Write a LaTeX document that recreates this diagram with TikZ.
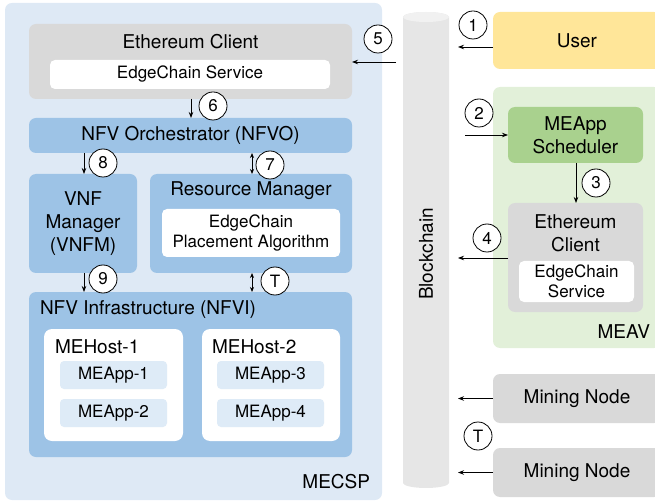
\documentclass[tikz,border=0pt]{standalone}
\usepackage{fontspec}
\setmainfont{TeX Gyre Heros}
\usetikzlibrary{arrows.meta}
\definecolor{mecbg}{HTML}{DEE9F5}
\definecolor{nfvblue}{HTML}{9DC3E6}
\definecolor{cgray}{HTML}{D9D9D9}
\definecolor{bcgray}{HTML}{E6E6E6}
\definecolor{useryel}{HTML}{FFE699}
\definecolor{meavbg}{HTML}{E2F0D9}
\definecolor{schedgr}{HTML}{A9D18E}
\definecolor{appbg}{HTML}{DEEBF7}
\newcommand\lblbig{\fontsize{19}{23}\selectfont}
\newcommand\lblsmall{\fontsize{17}{20.5}\selectfont}
\begin{document}
\begin{tikzpicture}[x=1pt,y=-1pt,
  every node/.style={inner sep=0pt, outer sep=0pt},
  box/.style n args={2}{minimum width=#1, minimum height=#2, rounded corners=7pt},
  wbox/.style n args={2}{minimum width=#1, minimum height=#2, rounded corners=5pt, fill=white},
  tbig/.style={font=\lblbig, align=center},
  tsmall/.style={font=\lblsmall, align=center},
  numc/.style={circle, draw=black, line width=0.8pt, fill=white, minimum size=28pt, font=\fontsize{17}{17}\selectfont},
  arr/.style={line width=0.8pt, -{Stealth[length=6pt,width=4.5pt]}},
  darr/.style={line width=0.8pt, {Stealth[length=5pt,width=4pt]}-{Stealth[length=5pt,width=4pt]}}]
\useasboundingbox (0,0) rectangle (655,502);
\clip (0,0) rectangle (655,502);

% ---------- MECSP ----------
\node[box={377}{497}, fill=mecbg] (mecsp) at (193.5,251.5) {};
\node[tbig, anchor=east] (mecspl) at (370,482) {MECSP};

\node[box={323}{75}, fill=cgray] (ethc) at (190.5,61.5) {};
\node[tbig] (ethct) at (190.5,42) {Ethereum Client};
\node[wbox={280}{29}, tsmall] (ecs) at (190,74.5) {EdgeChain Service};

\node[box={323}{35}, fill=nfvblue, tbig] (nfvo) at (190.5,135.5) {NFV Orchestrator (NFVO)};

\node[box={108}{99}, fill=nfvblue, tbig] (vnfm) at (83,223.5) {VNF\\Manager\\(VNFM)};

\node[box={202}{99}, fill=nfvblue] (rm) at (251,223.5) {};
\node[tbig] (rmt) at (251,191) {Resource Manager};
\node[wbox={178}{48}, tsmall] (epa) at (251,233) {EdgeChain\\Placement Algorithm};

\node[box={323}{165}, fill=nfvblue] (nfvi) at (190.5,374.5) {};
\node[tbig, anchor=west] (nfvit) at (40,310) {NFV Infrastructure (NFVI)};

\node[wbox={139}{112}, rounded corners=8pt] (h1) at (113.5,385) {};
\node[tbig, anchor=west] (h1t) at (55,347) {MEHost-1};
\node[box={107}{28}, rounded corners=4pt, fill=appbg, tsmall] (a1) at (113.5,375) {MEApp-1};
\node[box={107}{28}, rounded corners=4pt, fill=appbg, tsmall] (a2) at (113.5,413) {MEApp-2};

\node[wbox={138}{112}, rounded corners=8pt] (h2) at (271,385) {};
\node[tbig, anchor=west] (h2t) at (212,347) {MEHost-2};
\node[box={107}{28}, rounded corners=4pt, fill=appbg, tsmall] (a3) at (270.5,375) {MEApp-3};
\node[box={107}{28}, rounded corners=4pt, fill=appbg, tsmall] (a4) at (270.5,413) {MEApp-4};

% ---------- Blockchain ----------
\fill[bcgray] (403,17) -- (403,483) arc[start angle=180, end angle=360, x radius=23pt, y radius=5pt]
  -- (449,17) arc[start angle=0, end angle=180, x radius=23pt, y radius=5pt] -- cycle;
\fill[bcgray!55!white] (426,17) ellipse [x radius=23pt, y radius=5pt];
\node[tbig, rotate=90] (bc) at (426,254) {Blockchain};
\coordinate (bcL) at (396,0);
\coordinate (bcR) at (458,0);
\coordinate (bcR2) at (465,0);

% ---------- Right side ----------
\node[box={168}{57}, fill=useryel, tbig] (user) at (577,40.5) {User};

\node[box={168}{261}, fill=meavbg] (meav) at (577,217.5) {};
\node[tbig, anchor=east] (meavl) at (650,332) {MEAV};
\node[box={135}{56}, fill=schedgr, tbig] (sched) at (575.5,135) {MEApp\\Scheduler};
\node[box={135}{109}, fill=cgray] (ethc2) at (575.5,257.5) {};
\node[tbig] (ethc2t) at (575.5,233) {Ethereum\\Client};
\node[wbox={115}{41}, tsmall] (ecs2) at (576.5,281.5) {EdgeChain\\Service};

\node[box={168}{49}, fill=cgray, tbig] (mn1) at (577,398.5) {Mining Node};
\node[box={168}{49}, fill=cgray, tbig] (mn2) at (577,472.5) {Mining Node};

% ---------- Connectors ----------
\draw[arr] (user.west |- 0,47) -- (bcR |- 0,47);
\node[numc] (c1) at (473,25) {1};

\draw[arr] (bcR2 |- sched.west) -- (sched.west);
\node[numc] (c2) at (479,113) {2};

\draw[arr] (sched.south -| 576,0) -- (ethc2.north -| 576,0);
\node[numc] (c3) at (596,183) {3};

\draw[arr] (ethc2.west |- 0,258) -- (bcR |- 0,258);
\node[numc] (c4) at (487,238) {4};

\draw[arr] (bcL |- 0,62) -- (ethc.east |- 0,62);
\node[numc] (c5) at (378,39) {5};

\draw[arr] (ethc.south -| 191,0) -- (nfvo.north -| 191,0);
\node[numc] (c6) at (213,106) {6};

\draw[darr] (nfvo.south -| 252,0) -- (rm.north -| 252,0);
\node[numc] (c7) at (270,165) {7};

\draw[arr] (nfvo.south -| 84,0) -- (vnfm.north -| 84,0);
\node[numc] (c8) at (103,163) {8};

\draw[arr] (vnfm.south -| 84,0) -- (nfvi.north -| 84,0);
\node[numc] (c9) at (103,279) {9};

\draw[darr] (rm.south -| 252,0) -- (nfvi.north -| 252,0);
\node[numc] (cT1) at (275,281) {T};

\draw[arr] (mn1.west) -- (bcR |- mn1.west);
\draw[arr] (mn2.west) -- (bcR |- mn2.west);
\node[numc] (cT2) at (478,436) {T};
\end{tikzpicture}
\end{document}
